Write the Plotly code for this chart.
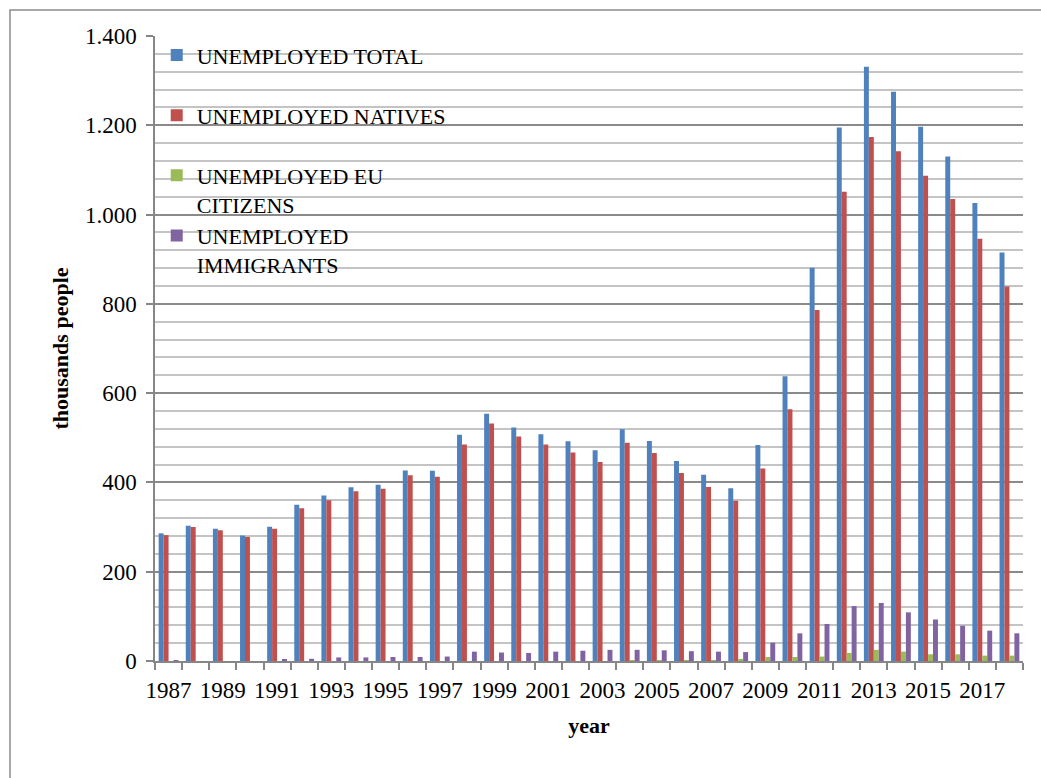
import plotly.graph_objects as go

years = list(range(1987, 2019))
total = [286, 303, 296, 281, 301, 350, 371, 389, 395, 427, 426, 507, 554, 523, 508, 492,
         472, 519, 493, 448, 417, 387, 484, 638, 881, 1195, 1331, 1275, 1197, 1130, 1026, 915]
natives = [282, 300, 293, 278, 296, 342, 360, 380, 386, 416, 413, 485, 532, 503, 485, 467,
           446, 489, 466, 421, 390, 359, 431, 564, 786, 1051, 1174, 1142, 1087, 1035, 946, 839]
eu = [None] * 17 + [1, 1, 1, 2, 3, 9, 9, 10, 18, 25, 21, 15, 15, 12, 12]
immigrants = [1, 0, 0, 0, 3, 5, 8, 8, 9, 9, 10, 21, 19, 18, 21, 23,
              25, 25, 24, 22, 21, 20, 41, 62, 83, 123, 130, 109, 93, 79, 68, 62]

series_names = ["UNEMPLOYED TOTAL<br> ", "UNEMPLOYED NATIVES<br> ",
                "UNEMPLOYED EU<br>CITIZENS", "UNEMPLOYED<br>IMMIGRANTS"]
colors = ["#4F81BD", "#C0504D", "#9BBB59", "#8064A2"]
y_tick_vals = [0, 200, 400, 600, 800, 1000, 1200, 1400]
y_tick_text = ["0", "200", "400", "600", "800", "1.000", "1.200", "1.400"]
x_tick_vals = list(range(1987, 2019, 2))

FONT = "Liberation Serif, Times New Roman, serif"

fig = go.Figure()
for i, (name, vals, col) in enumerate(zip(series_names, [total, natives, eu, immigrants], colors)):
    fig.add_trace(go.Bar(x=years, y=vals, name=name, marker=dict(color=col, line=dict(width=0)),
                         legendgroup=str(i)))

fig.update_layout(
    width=1041, height=778,
    margin=dict(l=155, r=18, t=36, b=117),
    paper_bgcolor="white", plot_bgcolor="white",
    barmode="group", bargap=0.27, bargroupgap=0,
    font=dict(family=FONT, size=23, color="black"),
    legend=dict(x=0.002, y=1.003, xanchor="left", yanchor="top", bgcolor="rgba(0,0,0,0)",
                font=dict(size=22), traceorder="grouped", tracegroupgap=0, valign="top",
                itemwidth=30),
    showlegend=True,
    shapes=[dict(type="rect", xref="paper", yref="paper",
                 x0=(10 - 155) / 868, x1=(1060 - 155) / 868,
                 y0=1 - (800 - 36) / 625, y1=1 + (36 - 10) / 625,
                 line=dict(color="#8c8c8c", width=1.5), fillcolor="rgba(0,0,0,0)", layer="below")],
)

fig.update_xaxes(
    range=[1986.5, 2018.5], tickmode="array", tickvals=x_tick_vals,
    ticktext=[str(v) for v in x_tick_vals], ticks="", showgrid=False,
    showline=True, linecolor="#868686", linewidth=1.5,
    minor=dict(tickmode="linear", tick0=1986.5, dtick=1, ticks="outside", ticklen=7,
               tickcolor="#868686", tickwidth=1.5, showgrid=False),
    title=dict(text="<b>year</b>", font=dict(size=22), standoff=15),
    tickfont=dict(size=23), ticklabelstandoff=8,
)
fig.update_yaxes(
    range=[0, 1400], tickmode="array", tickvals=y_tick_vals, ticktext=y_tick_text,
    ticks="outside", ticklen=7, tickcolor="#868686", tickwidth=1.5,
    showgrid=True, gridcolor="#8a8a8a", gridwidth=1.5,
    showline=True, linecolor="#868686", linewidth=1.5,
    minor=dict(dtick=40, tick0=0, showgrid=True, gridcolor="#c4c4c4", gridwidth=1.5, ticks=""),
    title=dict(text="<b>thousands people</b>", font=dict(size=22), standoff=10),
    tickfont=dict(size=23), zeroline=False, ticklabelstandoff=5,
)

fig.write_html("out.html")
